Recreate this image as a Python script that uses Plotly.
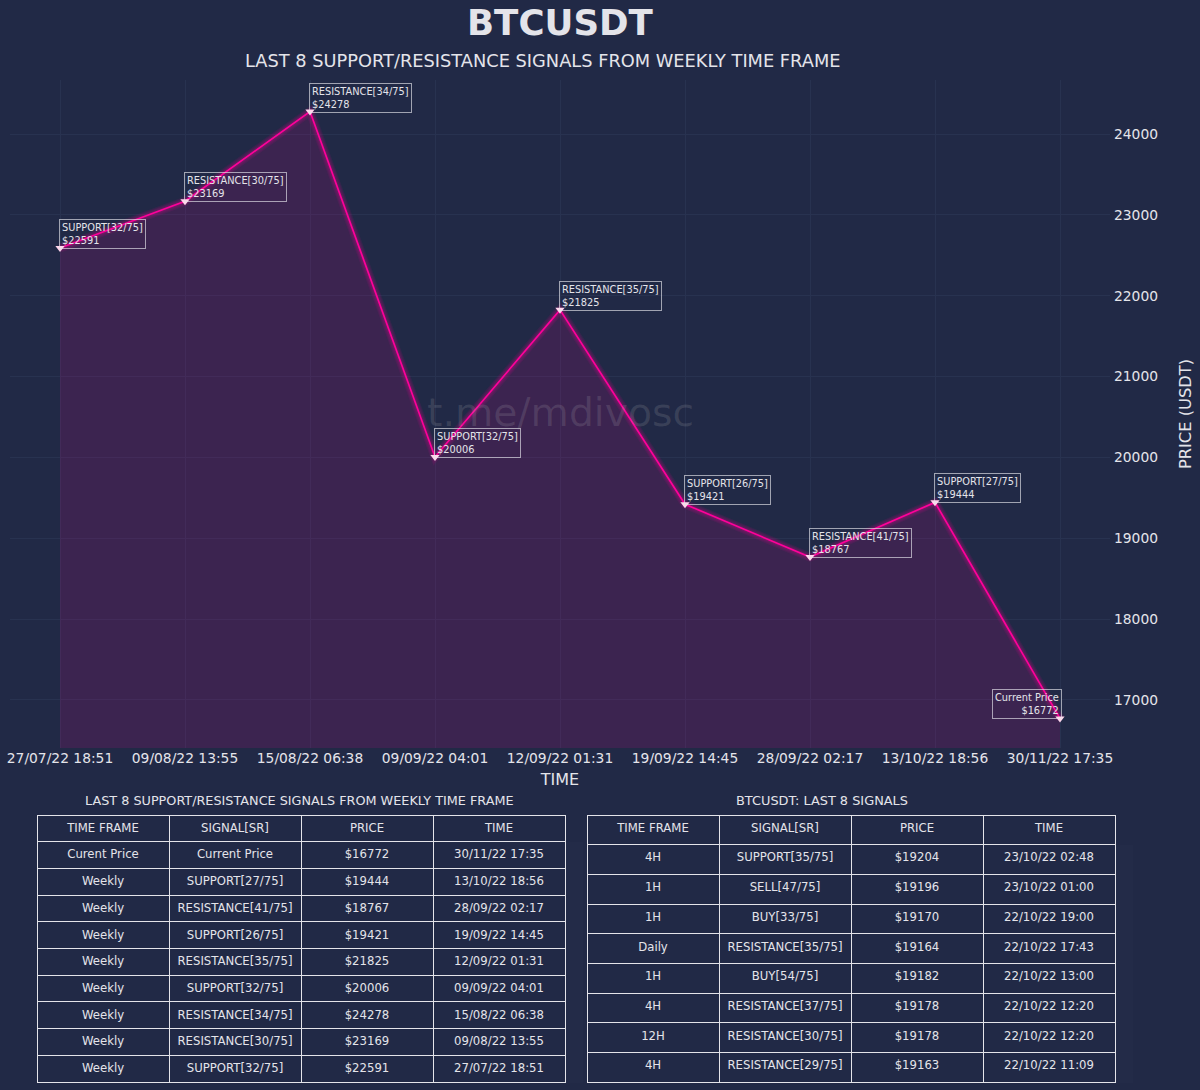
import plotly.graph_objects as go

# chart data
times = ["27/07/22 18:51", "09/08/22 13:55", "15/08/22 06:38", "09/09/22 04:01", "12/09/22 01:31",
         "19/09/22 14:45", "28/09/22 02:17", "13/10/22 18:56", "30/11/22 17:35"]
prices = [22591, 23169, 24278, 20006, 21825, 19421, 18767, 19444, 16772]
signals = ["SUPPORT[32/75]", "RESISTANCE[30/75]", "RESISTANCE[34/75]", "SUPPORT[32/75]", "RESISTANCE[35/75]",
           "SUPPORT[26/75]", "RESISTANCE[41/75]", "SUPPORT[27/75]", "Current Price"]
y_ticks = [17000, 18000, 19000, 20000, 21000, 22000, 23000, 24000]

# left table
table_header = ["TIME FRAME", "SIGNAL[SR]", "PRICE", "TIME"]
left_frames = ["Curent Price", "Weekly", "Weekly", "Weekly", "Weekly", "Weekly", "Weekly", "Weekly", "Weekly"]
left_signals = signals[::-1]
left_prices = ["$%d" % p for p in prices[::-1]]
left_times = times[::-1]

# right table
right_frames = ["4H", "1H", "1H", "Daily", "1H", "4H", "12H", "4H"]
right_signals = ["SUPPORT[35/75]", "SELL[47/75]", "BUY[33/75]", "RESISTANCE[35/75]", "BUY[54/75]",
                 "RESISTANCE[37/75]", "RESISTANCE[30/75]", "RESISTANCE[29/75]"]
right_prices = ["$19204", "$19196", "$19170", "$19164", "$19182", "$19178", "$19178", "$19163"]
right_times = ["23/10/22 02:48", "23/10/22 01:00", "22/10/22 19:00", "22/10/22 17:43", "22/10/22 13:00",
               "22/10/22 12:20", "22/10/22 12:20", "22/10/22 11:09"]

BG = "#212946"
GRID = "#283250"
PINK = "#FE019A"
TEXT = "#E4E4EA"
FONT = "DejaVu Sans"
W, H = 1200, 1090

fig = go.Figure()
x_pos = list(range(len(times)))

# filled area
fig.add_trace(go.Scatter(x=x_pos, y=prices, mode="lines", line=dict(width=0),
                         fill="tozeroy", fillcolor="rgba(254,1,154,0.12)", hoverinfo="skip"))
# glow
for w in [9, 7, 5, 3.5]:
    fig.add_trace(go.Scatter(x=x_pos, y=prices, mode="lines", opacity=0.08,
                             line=dict(color=PINK, width=w), hoverinfo="skip"))
fig.add_trace(go.Scatter(x=x_pos, y=prices, mode="lines+markers",
                         line=dict(color=PINK, width=1.7),
                         marker=dict(symbol="triangle-down", size=8, color="#FFD6EC")))

# signal labels
for i, (p, s) in enumerate(zip(prices, signals)):
    last = i == len(times) - 1
    fig.add_annotation(x=i, y=p, text="%s<br>$%d" % (s, p), showarrow=False,
                       xanchor="right" if last else "left", yanchor="bottom",
                       align="right" if last else "left",
                       xshift=2 if last else -1, yshift=-1,
                       font=dict(family=FONT, size=9.8, color=TEXT),
                       bordercolor="rgba(230,230,236,0.65)", borderwidth=1, borderpad=2)


def make_table(columns, x0, x1, y0, y1, row_h):
    return go.Table(
        domain=dict(x=[x0 / W, x1 / W], y=[1 - y1 / H, 1 - y0 / H]),
        columnwidth=[1, 1, 1, 1],
        header=dict(values=table_header, height=row_h, fill_color=BG, align="center",
                    line=dict(color=TEXT, width=1),
                    font=dict(family=FONT, size=11.7, color=TEXT)),
        cells=dict(values=columns, height=row_h, fill_color=BG, align="center",
                   line=dict(color=TEXT, width=1),
                   font=dict(family=FONT, size=11.7, color=TEXT)),
    )


fig.add_trace(make_table([left_frames, left_signals, left_prices, left_times], 37, 565.5, 815, 1083, 26.7))
fig.add_trace(make_table([right_frames, right_signals, right_prices, right_times], 587, 1115.5, 815, 1083, 29.7))


def paper_text(text, x, y, size, color=TEXT):
    fig.add_annotation(x=x / W, y=1 - y / H, xref="paper", yref="paper", text=text, showarrow=False,
                       xanchor="center", yanchor="middle", font=dict(family=FONT, size=size, color=color))


# titles and watermark
paper_text("<b>BTCUSDT</b>", 560.5, 22, 35.6)
paper_text("LAST 8 SUPPORT/RESISTANCE SIGNALS FROM WEEKLY TIME FRAME", 542.5, 60, 17.8)
paper_text("LAST 8 SUPPORT/RESISTANCE SIGNALS FROM WEEKLY TIME FRAME", 299, 800, 12.8)
paper_text("BTCUSDT: LAST 8 SIGNALS", 821.5, 800, 12.9)
paper_text("t.me/mdivosc", 560, 412, 39.3, "rgba(190,190,190,0.16)")

fig.update_layout(
    width=W, height=H, showlegend=False,
    paper_bgcolor=BG, plot_bgcolor=BG,
    margin=dict(l=0, r=0, t=0, b=0),
    font=dict(family=FONT, color=TEXT),
    xaxis=dict(domain=[10 / W, 1110 / W], range=[-0.4, 8.4], automargin=False,
               tickmode="array", tickvals=x_pos, ticktext=times,
               showgrid=True, gridcolor=GRID, gridwidth=1, zeroline=False, showline=False, ticks="",
               tickfont=dict(size=13.85, color=TEXT),
               title=dict(text="TIME", font=dict(size=16, color=TEXT), standoff=8)),
    yaxis=dict(domain=[1 - 748 / H, 1 - 80 / H], range=[16406, 24668], side="right", automargin=False,
               tickmode="array", tickvals=y_ticks, ticktext=[str(v) for v in y_ticks],
               showgrid=True, gridcolor=GRID, gridwidth=1, zeroline=False, showline=False, ticks="",
               tickfont=dict(size=13.85, color=TEXT), ticklabelstandoff=3,
               title=dict(text="PRICE (USDT)", font=dict(size=16.3, color=TEXT), standoff=22)),
)

fig.write_html("out.html", config=dict(displayModeBar=False),
               post_script="document.body.style.margin='0';document.documentElement.style.overflow='hidden';")
